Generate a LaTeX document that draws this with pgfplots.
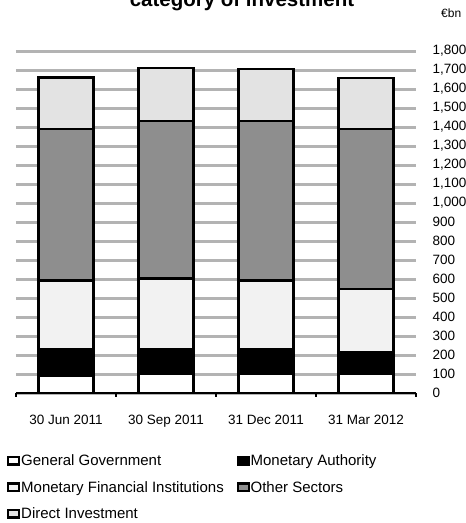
\documentclass[border=0pt]{standalone}
\usepackage{pgfplots}
\pgfplotsset{compat=1.18}
\usepackage{fontspec}
\setmainfont{Liberation Sans}
\definecolor{ggc}{HTML}{FFFFFF}
\definecolor{mac}{HTML}{000000}
\definecolor{mfic}{HTML}{F2F2F2}
\definecolor{osc}{HTML}{8E8E8E}
\definecolor{dic}{HTML}{E3E3E3}
\definecolor{gridc}{HTML}{B3B3B3}
\begin{document}
\begin{tikzpicture}[x=1pt,y=1pt]
\begin{axis}[
  at={(16pt,-393pt)}, anchor=south west,
  scale only axis, width=400pt, height=342pt,
  ybar stacked, bar width=55pt,
  xmin=-0.5, xmax=3.5, ymin=0, ymax=1800,
  ytick={0,100,...,1800},
  ymajorgrids, major grid style={draw=gridc, line width=3pt},
  axis x line*=bottom,
  axis y line*=right,
  y axis line style={draw=none},
  x axis line style={line width=2pt, -},
  ytick style={draw=none},
  yticklabel pos=right,
  yticklabel style={xshift=9.5pt, anchor=west},
  xtick={-0.5,0.5,1.5,2.5,3.5},
  xticklabels={},
  xtick style={line width=2pt, black},
  tick align=outside,
  major tick length=3.5pt,
  extra x ticks={0,1,2,3},
  extra x tick labels={30 Jun 2011,30 Sep 2011,31 Dec 2011,31 Mar 2012},
  extra x tick style={major tick length=0pt, tick label style={yshift=-19pt}},
  tick label style={font=\fontsize{13.5}{15}\selectfont},
  /pgf/number format/assume math mode=true,
  /pgf/number format/1000 sep={,},
  legend columns=2,
  legend cell align=left,
  legend style={at={(-0.03,-0.172)}, anchor=north west, draw=none, fill=none,
    font=\fontsize{15}{17}\selectfont, row sep=12.5pt,
    /tikz/every even column/.append style={column sep=12pt},
    nodes={inner sep=0.8pt}},
  legend image code/.code={\draw[#1, draw=black, line width=2.2pt] (0pt,-3.5pt) rectangle (11pt,4pt);},
  clip=false,
]
\addplot[fill=ggc, draw=black, line width=2.4pt] coordinates {(0,92) (1,102) (2,102) (3,102)};
\addplot[fill=mac, draw=black, line width=2.4pt] coordinates {(0,140) (1,130) (2,130) (3,112)};
\addplot[fill=mfic, draw=black, line width=2.4pt] coordinates {(0,361) (1,370) (2,361) (3,332)};
\addplot[fill=osc, draw=black, line width=2.4pt] coordinates {(0,796) (1,830) (2,839) (3,843)};
\addplot[fill=dic, draw=black, line width=2.4pt] coordinates {(0,271) (1,277) (2,273) (3,269)};
\legend{General Government, Monetary Authority, Monetary Financial Institutions, Other Sectors, Direct Investment}
\end{axis}
\node[anchor=base, font=\bfseries\fontsize{20.5}{24}\selectfont] at (242pt,-6pt) {category of investment};
\node[anchor=base west, font=\fontsize{12}{14}\selectfont, inner sep=0pt] at (441pt,-17pt) {€bn};
\pgfresetboundingbox
\path[use as bounding box] (0pt,0pt) rectangle (466pt,-523pt);
\end{tikzpicture}
\end{document}
